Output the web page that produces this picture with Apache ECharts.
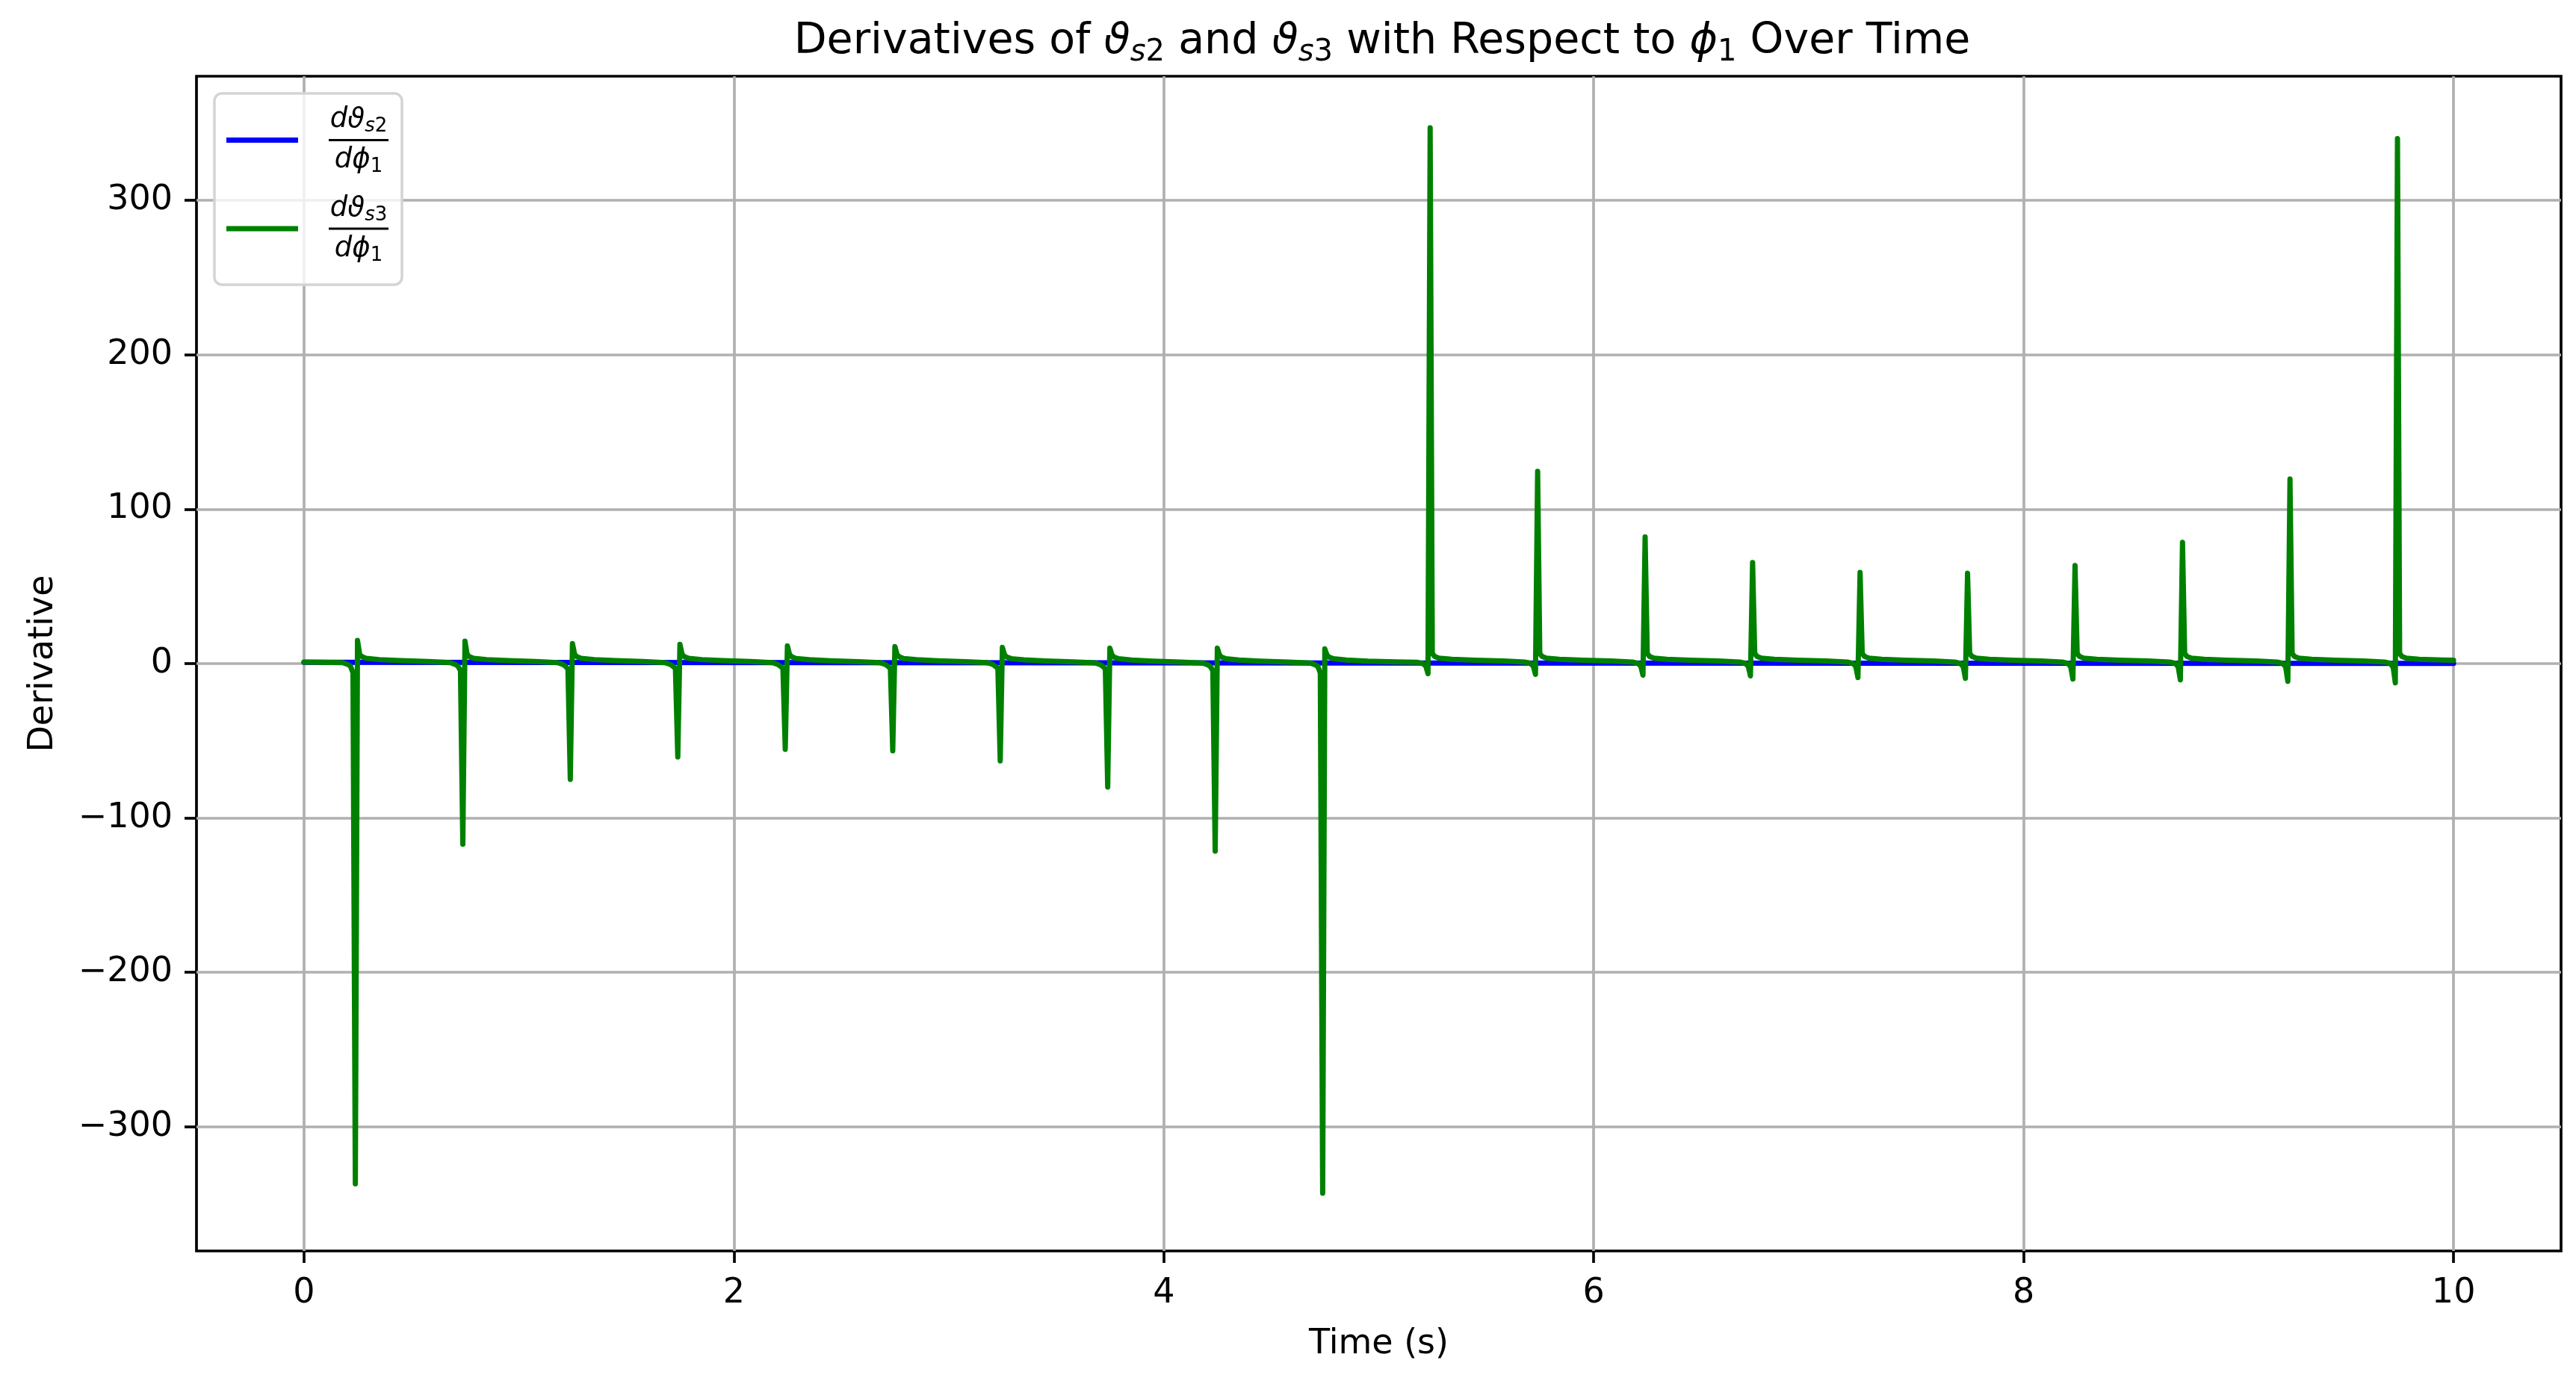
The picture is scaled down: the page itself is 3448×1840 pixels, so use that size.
<!DOCTYPE html>
<html><head><meta charset="utf-8">
<script src="https://cdn.jsdelivr.net/npm/echarts@6/dist/echarts.min.js"></script>
<style>html,body{margin:0;padding:0;background:#fff}#c{width:3448px;height:1840px}</style>
</head><body><div id="c"></div>
<script>
// ---- data ----
const xTicks = [0, 2, 4, 6, 8, 10];
const yTicks = [-300, -200, -100, 0, 100, 200, 300];
const xRange = [-0.5, 10.5];
const yRange = [-380.4, 380.4];

const seriesNames = ['dtheta_s2/dphi_1', 'dtheta_s3/dphi_1'];

// d(theta_s2)/d(phi_1): stays at ~0 for the whole run
const blueData = [[0, 0.8], [2.5, 0.6], [5, 0.4], [7.5, 0.2], [10, 0.1]];

// d(theta_s3)/d(phi_1): spikes every 0.5 s
const greenData = [
  [0.000, 1.0], [0.080, 0.8],
  [0.180, 0.6], [0.205, -0.6], [0.217, -1.8], [0.228, -6.0], [0.239, -337], [0.249, 15.0], [0.259, 6.0], [0.270, 4.4], [0.290, 3.4], [0.350, 2.6], [0.450, 1.9], [0.580, 1.3],
  [0.680, 0.6], [0.705, -0.6], [0.717, -1.8], [0.728, -4.5], [0.739, -117], [0.749, 14.5], [0.759, 6.0], [0.770, 4.4], [0.790, 3.4], [0.850, 2.6], [0.950, 1.9], [1.080, 1.3],
  [1.180, 0.6], [1.205, -0.6], [1.217, -1.8], [1.228, -3.5], [1.239, -75], [1.249, 13.0], [1.259, 6.0], [1.270, 4.4], [1.290, 3.4], [1.350, 2.6], [1.450, 1.9], [1.580, 1.3],
  [1.680, 0.6], [1.705, -0.6], [1.717, -1.8], [1.728, -3.0], [1.739, -60.5], [1.749, 12.5], [1.759, 6.0], [1.770, 4.4], [1.790, 3.4], [1.850, 2.6], [1.950, 1.9], [2.080, 1.3],
  [2.180, 0.6], [2.205, -0.6], [2.217, -1.8], [2.228, -3.0], [2.239, -55.5], [2.249, 11.5], [2.259, 5.8], [2.270, 4.3], [2.290, 3.3], [2.350, 2.5], [2.450, 1.8], [2.580, 1.2],
  [2.680, 0.6], [2.705, -0.6], [2.717, -1.8], [2.728, -3.0], [2.739, -56.5], [2.749, 11.0], [2.759, 5.8], [2.770, 4.3], [2.790, 3.3], [2.850, 2.5], [2.950, 1.8], [3.080, 1.2],
  [3.180, 0.6], [3.205, -0.6], [3.217, -1.8], [3.228, -3.0], [3.239, -63], [3.249, 10.5], [3.259, 5.6], [3.270, 4.2], [3.290, 3.2], [3.350, 2.4], [3.450, 1.7], [3.580, 1.1],
  [3.680, 0.5], [3.705, -0.7], [3.717, -1.9], [3.728, -3.5], [3.739, -80], [3.749, 10.0], [3.759, 5.5], [3.770, 4.1], [3.790, 3.1], [3.850, 2.3], [3.950, 1.6], [4.080, 1.0],
  [4.180, 0.4], [4.205, -0.8], [4.217, -2.0], [4.228, -4.5], [4.239, -121.5], [4.249, 10.0], [4.259, 5.5], [4.270, 4.1], [4.290, 3.1], [4.350, 2.3], [4.450, 1.6], [4.580, 1.0],
  [4.680, 0.4], [4.705, -0.8], [4.717, -2.0], [4.728, -6.0], [4.739, -343], [4.749, 9.5], [4.759, 5.5], [4.770, 4.1], [4.790, 3.1], [4.850, 2.3], [4.950, 1.6], [5.080, 1.1],
  [5.180, 0.8], [5.205, 0.0], [5.219, -1.6], [5.229, -6.5], [5.239, 347], [5.249, 6.5], [5.260, 4.6], [5.280, 3.5], [5.340, 2.8], [5.450, 2.2], [5.580, 1.7],
  [5.680, 1.0], [5.705, 0.2], [5.719, -1.6], [5.729, -7.0], [5.739, 124.5], [5.749, 6.5], [5.760, 4.6], [5.780, 3.5], [5.840, 2.8], [5.950, 2.2], [6.080, 1.7],
  [6.180, 1.0], [6.205, 0.2], [6.219, -1.7], [6.229, -7.5], [6.239, 82], [6.249, 6.5], [6.260, 4.6], [6.280, 3.5], [6.340, 2.8], [6.450, 2.2], [6.580, 1.7],
  [6.680, 1.0], [6.705, 0.2], [6.719, -1.8], [6.729, -8.0], [6.739, 65.5], [6.749, 6.5], [6.760, 4.6], [6.780, 3.5], [6.840, 2.8], [6.950, 2.2], [7.080, 1.7],
  [7.180, 1.0], [7.205, 0.2], [7.219, -1.9], [7.229, -9.0], [7.239, 59], [7.249, 6.5], [7.260, 4.6], [7.280, 3.5], [7.340, 2.8], [7.450, 2.2], [7.580, 1.7],
  [7.680, 1.0], [7.705, 0.2], [7.719, -2.0], [7.729, -9.5], [7.739, 58.5], [7.749, 6.5], [7.760, 4.6], [7.780, 3.5], [7.840, 2.8], [7.950, 2.2], [8.080, 1.7],
  [8.180, 1.0], [8.205, 0.2], [8.219, -2.0], [8.229, -10.0], [8.239, 63.5], [8.249, 6.5], [8.260, 4.6], [8.280, 3.5], [8.340, 2.8], [8.450, 2.2], [8.580, 1.7],
  [8.680, 1.0], [8.705, 0.2], [8.719, -2.1], [8.729, -10.5], [8.739, 78.5], [8.749, 6.5], [8.760, 4.6], [8.780, 3.5], [8.840, 2.8], [8.950, 2.2], [9.080, 1.7],
  [9.180, 1.0], [9.205, 0.2], [9.219, -2.2], [9.229, -11.5], [9.239, 119.5], [9.249, 6.5], [9.260, 4.6], [9.280, 3.5], [9.340, 2.8], [9.450, 2.2], [9.580, 1.7],
  [9.680, 1.0], [9.705, 0.2], [9.719, -2.3], [9.729, -12.5], [9.739, 340], [9.749, 6.5], [9.760, 4.6], [9.780, 3.5], [9.840, 2.8], [9.950, 2.3], [10.000, 2.2]
];

// ---- chart ----
const FONT = 'DejaVu Sans';
const chart = echarts.init(document.getElementById('c'), null, {renderer: 'canvas'});
const minus = v => String(v).replace('-', '\u2212');

const legendLabels = {
  'dtheta_s2/dphi_1': '{sp| }{n|d\u03d1}{s|s}{r|2}\n{sp| }{bar| }\n{sp| }{n|d\u03d5}{r|1}',
  'dtheta_s3/dphi_1': '{sp| }{n|d\u03d1}{s|s}{r|3}\n{sp| }{bar| }\n{sp| }{n|d\u03d5}{r|1}'
};

chart.setOption({
  animation: false,
  backgroundColor: '#ffffff',
  title: {
    text: 'Derivatives of {m|\u03d1}{s|s}{r|2} and {m|\u03d1}{s|s}{r|3} with Respect to {m|\u03d5}{r|1} Over Time',
    left: 1845, top: 16, textAlign: 'center',
    textStyle: {
      fontFamily: FONT, fontSize: 57, fontWeight: 'normal', color: '#000',
      rich: {
        m: {fontFamily: FONT, fontSize: 57, fontStyle: 'italic', color: '#000'},
        s: {fontFamily: FONT, fontSize: 40, fontStyle: 'italic', color: '#000', padding: [30, 0, 0, 0]},
        r: {fontFamily: FONT, fontSize: 40, color: '#000', padding: [30, 0, 0, 0]}
      }
    }
  },
  legend: {
    orient: 'vertical', left: 287, top: 125,
    padding: [17, 18, 26, 16],
    itemGap: 24, itemWidth: 96, itemHeight: 7, icon: 'rect',
    backgroundColor: 'rgba(255,255,255,0.8)',
    borderColor: '#d4d4d4', borderWidth: 3.5, borderRadius: 10,
    data: seriesNames,
    formatter: name => legendLabels[name],
    textStyle: {
      fontFamily: FONT, color: '#000',
      rich: {
        sp: {width: 36, fontSize: 10},
        n: {fontFamily: FONT, fontSize: 37, fontStyle: 'italic', color: '#000', align: 'center', lineHeight: 44},
        s: {fontFamily: FONT, fontSize: 26, fontStyle: 'italic', color: '#000', align: 'center', padding: [18, 0, 0, 0]},
        r: {fontFamily: FONT, fontSize: 26, color: '#000', align: 'center', padding: [18, 0, 0, 0]},
        bar: {width: 80, height: 3, lineHeight: 3, fontSize: 2, backgroundColor: '#000', align: 'center'}
      }
    }
  },
  grid: {
    left: 263, right: 20, top: 102, bottom: 166,
    show: true, borderColor: '#000', borderWidth: 3.7, backgroundColor: 'transparent',
    outerBoundsMode: 'none'
  },
  xAxis: {
    type: 'value', min: xRange[0], max: xRange[1],
    name: 'Time (s)', nameLocation: 'middle', nameGap: 102,
    nameTextStyle: {fontFamily: FONT, fontSize: 46, color: '#000'},
    axisLine: {show: false, onZero: false},
    axisTick: {show: true, customValues: xTicks, length: 16, inside: false, lineStyle: {color: '#000', width: 3.7}},
    axisLabel: {customValues: xTicks, margin: 34, fontFamily: FONT, fontSize: 46, color: '#000', formatter: v => minus(v)},
    splitLine: {show: true, lineStyle: {color: '#b0b0b0', width: 3.7}}
  },
  yAxis: {
    type: 'value', min: yRange[0], max: yRange[1],
    name: 'Derivative', nameLocation: 'middle', nameGap: 182,
    nameTextStyle: {fontFamily: FONT, fontSize: 46, color: '#000'},
    axisLine: {show: false, onZero: false},
    axisTick: {show: true, customValues: yTicks, length: 16, inside: false, lineStyle: {color: '#000', width: 3.7}},
    axisLabel: {customValues: yTicks, margin: 32, fontFamily: FONT, fontSize: 46, color: '#000', formatter: v => minus(v)},
    splitLine: {show: true, lineStyle: {color: '#b0b0b0', width: 3.7}}
  },
  series: [
    {name: seriesNames[0], type: 'line', data: blueData, showSymbol: false, symbol: 'none',
     color: '#0000ff', lineStyle: {color: '#0000ff', width: 7, join: 'round', cap: 'round'}},
    {name: seriesNames[1], type: 'line', data: greenData, showSymbol: false, symbol: 'none',
     color: '#008000', lineStyle: {color: '#008000', width: 7, join: 'round', cap: 'round'}}
  ]
});
</script>
</body></html>
